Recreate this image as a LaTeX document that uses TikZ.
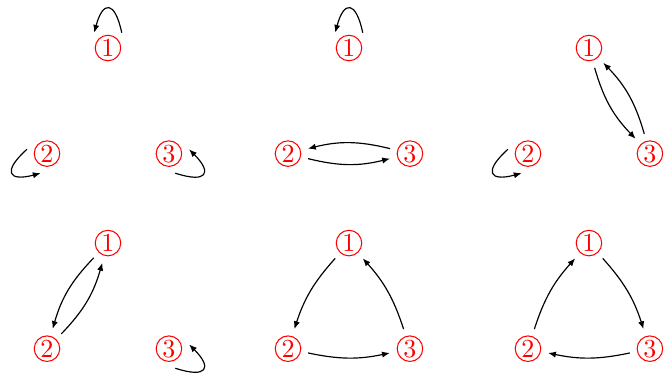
\documentclass[tikz,border=0pt]{standalone}
\usetikzlibrary{arrows.meta}

\begin{document}
\begin{tikzpicture}[>={Latex[length=3pt,width=2.4pt]},
  state/.style={circle,draw=red,text=red,inner sep=0pt,minimum size=9.8pt,outer sep=3pt},
  arc/.style={->,line width=0.45pt}]
  \useasboundingbox (0,0) rectangle (9,5.06);
  % six panels, three states each
  \foreach \p/\x/\y in {a/1.457/3.462,b/4.709/3.462,c/7.947/3.462,d/1.457/0.830,e/4.709/0.830,f/7.947/0.830}{
    \begin{scope}[shift={(\x,\y)}]
      \node[state] (\p1) at (90:0.95) {1};
      \node[state] (\p2) at (210:0.95) {2};
      \node[state] (\p3) at (330:0.95) {3};
    \end{scope}
  }
  % self loops
  \foreach \n in {a1,b1}{
    \draw[arc] (\n.48) to[out=102,in=75,looseness=3.1] (\n.132);
  }
  \foreach \n in {a2,c2}{
    \draw[arc] (\n.168) to[out=222,in=195,looseness=3.1] (\n.252);
  }
  \foreach \n in {a3,d3}{
    \draw[arc] (\n.288) to[out=342,in=315,looseness=3.1] (\n.12);
  }
  % pairs
  \draw[arc] (b3) to[bend right=14] (b2);
  \draw[arc] (b2) to[bend right=14] (b3);
  \draw[arc] (c1) to[bend right=14] (c3);
  \draw[arc] (c3) to[bend right=14] (c1);
  \draw[arc] (d1) to[bend right=14] (d2);
  \draw[arc] (d2) to[bend right=14] (d1);
  % cycles
  \draw[arc] (e1) to[bend right=12] (e2);
  \draw[arc] (e2) to[bend right=12] (e3);
  \draw[arc] (e3) to[bend right=12] (e1);
  \draw[arc] (f2) to[bend left=12] (f1);
  \draw[arc] (f1) to[bend left=12] (f3);
  \draw[arc] (f3) to[bend left=12] (f2);
\end{tikzpicture}
\end{document}
